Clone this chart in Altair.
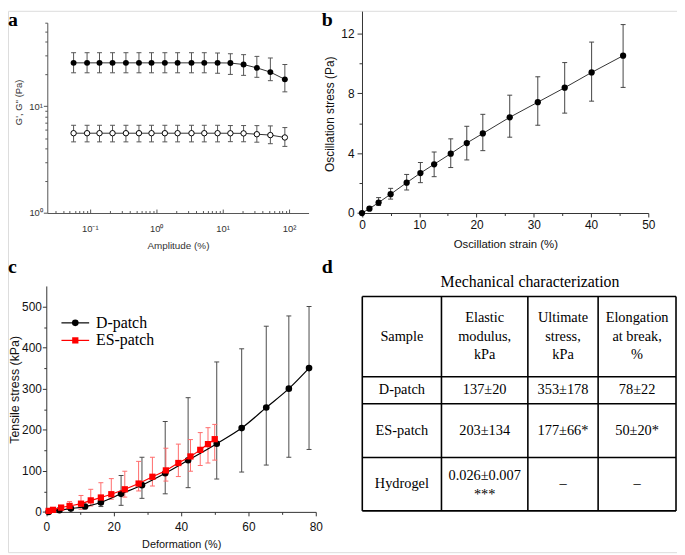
import altair as alt
import pandas as pd

# ---------------- data ----------------
# (a) amplitude sweep
amplitude = [0.057, 0.091, 0.14, 0.22, 0.35, 0.55, 0.85, 1.35, 2.1, 3.4, 5.3, 8.4, 13.1, 20.7, 32.8, 52.4, 86.6]
g_storage = [25.4, 25.4, 25.4, 25.4, 25.4, 25.4, 25.4, 25.4, 25.4, 25.4, 25.4, 25.4, 25.3, 24.5, 22.8, 20.8, 17.8]
g_storage_hi = [31.6, 31.6, 31.6, 31.6, 31.6, 31.6, 31.6, 31.6, 31.6, 31.6, 31.6, 31.4, 30.9, 30.3, 29.2, 28.2, 24.5]
g_storage_lo = [20.5, 20.5, 20.5, 20.5, 20.5, 20.5, 20.5, 20.5, 20.5, 20.5, 20.5, 20.3, 19.8, 19.4, 18.6, 17.3, 13.6]
g_loss = [5.58, 5.58, 5.58, 5.58, 5.58, 5.58, 5.58, 5.58, 5.58, 5.58, 5.58, 5.58, 5.57, 5.56, 5.46, 5.36, 5.09]
g_loss_hi = [6.62, 6.62, 6.62, 6.62, 6.62, 6.62, 6.62, 6.62, 6.62, 6.62, 6.62, 6.62, 6.58, 6.58, 6.57, 6.53, 6.30]
g_loss_lo = [4.63, 4.63, 4.63, 4.63, 4.63, 4.63, 4.63, 4.63, 4.63, 4.63, 4.63, 4.63, 4.65, 4.64, 4.60, 4.45, 4.20]

# (b) oscillation stress vs strain
strain = [0, 1.3, 2.9, 5.0, 7.8, 10.2, 12.6, 15.5, 18.3, 21.1, 25.8, 30.7, 35.4, 40.1, 45.6]
stress = [0, 0.29, 0.70, 1.26, 2.03, 2.67, 3.26, 3.97, 4.68, 5.32, 6.40, 7.41, 8.38, 9.40, 10.52]
stress_lo = [0, 0.29, 0.50, 0.93, 1.54, 2.03, 2.43, 3.04, 3.55, 4.17, 5.07, 5.87, 6.68, 7.48, 8.40]
stress_hi = [0, 0.29, 1.03, 1.65, 2.58, 3.38, 4.08, 4.96, 5.80, 6.60, 7.88, 9.11, 10.06, 11.43, 12.60]

# (c) tensile curves
series_names = ["D-patch", "ES-patch"]
def_d = [0.7, 3.9, 7.3, 11.5, 16.2, 22.2, 28.4, 35.3, 42.1, 50.6, 58.0, 65.3, 72.0, 78.0]
st_d = [0, 4, 8, 13, 23, 44, 65, 94, 125.6, 166, 204, 254, 300, 350]
lo_d = [0, 4, 8, 13, 13, 16, 33, 44, 59, 80, 97, 114, 133, 152]
hi_d = [0, 4, 8, 13, 40, 88.6, 133, 220, 278, 365, 397, 452, 477, 500]
def_e = [0.7, 2.0, 4.4, 6.9, 10.3, 13.2, 16.2, 19.3, 23.3, 27.4, 31.5, 35.5, 39.2, 42.8, 45.7, 48.0, 50.0]
st_e = [2.4, 5, 10.5, 14.5, 20, 28, 35, 43, 55, 69, 85.5, 101, 119, 135, 151, 165, 177]
lo_e = [2.4, 5, 8, 6.4, 6.4, 14.5, 20, 31, 36, 51, 63, 75, 86, 99, 113, 119, 126]
hi_e = [2.4, 5, 13, 25, 40, 55, 71, 81, 99, 123, 133, 155, 165, 176, 193, 205, 213]

# (d) table
table_title = "Mechanical characterization"
table_header = ["Sample", "Elastic\nmodulus,\nkPa", "Ultimate\nstress,\nkPa", "Elongation\nat break,\n%"]
table_samples = ["D-patch", "ES-patch", "Hydrogel"]
table_elastic = ["137±20", "203±134", "0.026±0.007\n***"]
table_ultimate = ["353±178", "177±66*", "–"]
table_elongation = ["78±22", "50±20*", "–"]

panel_letters = ["a", "b", "c", "d"]

# ---------------- layout (page px -> plot px) ----------------
OFF = 8
W, H = 676, 547


def px(v):
    return v - OFF


A_XR = [px(47.7), px(311.7)]; A_YR = [px(212.3), px(20.0)]
A_XD = [0.0229, 197]; A_YD = [1, 60.3]
B_XR = [px(365.7), px(655.0)]; B_YR = [px(212.3), px(8.3)]
B_XD = [0, 50]; B_YD = [0, 13.5]
C_XR = [px(46.7), px(319.0)]; C_YR = [px(514.3), px(286.0)]
C_XD = [0, 80]; C_YD = [0, 550]
T_COLS = [px(366), px(446), px(533.3), px(604.3), px(683)]
T_ROWS = [px(296.7), px(377.7), px(405), px(459.3), px(513.3)]

SANS = "Liberation Sans"
SERIF = "Liberation Serif"


def sc(dom, rng, typ="linear"):
    return alt.Scale(type=typ, domain=dom, range=rng, nice=False, zero=False)


def tick_axis(orient, offset, values, size, color):
    """An axis that only draws tick marks (no labels, no domain line)."""
    return alt.Axis(orient=orient, offset=offset, values=values, tickSize=size, tickColor=color,
                    labels=False, domain=False, grid=False, title=None)


IDX = alt.Scale(domain=[0, W], range=[0, W], nice=False, zero=False)
IDY = alt.Scale(domain=[0, H], range=[0, H], nice=False, zero=False)

# ---------------- panel a ----------------
a_x_all = sorted(set(round(m * 10 ** e, 6) for e in range(-2, 3) for m in range(1, 10)
                     if A_XD[0] <= m * 10 ** e <= A_XD[1]))
a_x_major = [0.1, 1, 10, 100]
a_x_minor = [v for v in a_x_all if v not in a_x_major]
a_y_all = sorted(set(round(m * 10 ** e, 6) for e in range(0, 2) for m in range(1, 10)
                     if A_YD[0] <= m * 10 ** e <= A_YD[1]))
a_y_major = [1, 10]
a_y_minor = [v for v in a_y_all if v not in a_y_major]
A_AX = "#555"

ax_a_x = alt.Axis(orient="bottom", offset=A_YR[0] - H, values=a_x_major, ticks=False,
                  labelExpr="datum.value < 0.5 ? '10⁻¹' : datum.value < 5 ? '10⁰' : datum.value < 50 ? '10¹' : '10²'",
                  labelFont=SANS, labelFontSize=9.5, labelColor="#333", labelPadding=11,
                  labelFlush=False, labelOverlap=False, domainColor=A_AX, grid=False,
                  title="Amplitude (%)", titleFont=SANS, titleFontSize=10, titleFontWeight="normal",
                  titleColor="#333", titleX=px(179.7), titleY=32.7, titleBaseline="middle")
ax_a_x_maj_in = tick_axis("top", -A_YR[0], a_x_major, 4, A_AX)
ax_a_x_min_in = tick_axis("top", -A_YR[0], a_x_minor, 2.5, A_AX)
ax_a_y = alt.Axis(orient="left", offset=-A_XR[0], values=a_y_major,
                  labelExpr="datum.value < 5 ? '10⁰' : '10¹'",
                  tickSize=4, tickColor=A_AX, domainColor=A_AX,
                  labelFont=SANS, labelFontSize=9.5, labelColor="#333", labelPadding=1,
                  labelOverlap=False, labelFlush=False, grid=False,
                  title="G', G'' (Pa)", titleFont=SANS, titleFontSize=9.5, titleFontWeight="normal",
                  titleColor="#333", titleX=px(18.5) - A_XR[0], titleY=px(100), titleAngle=-90,
                  titleBaseline="middle")
ax_a_y_min = tick_axis("left", -A_XR[0], a_y_minor, 2.5, A_AX)

df_a = pd.DataFrame({"x": amplitude, "gs": g_storage, "gs_lo": g_storage_lo, "gs_hi": g_storage_hi,
                     "gl": g_loss, "gl_lo": g_loss_lo, "gl_hi": g_loss_hi})


def XA(axis=None):
    return alt.X("x:Q", scale=sc(A_XD, A_XR, "log"), axis=axis)


def YA(f, axis=None):
    return alt.Y(f"{f}:Q", scale=sc(A_YD, A_YR, "log"), axis=axis)


ba = alt.Chart(df_a)
ERR_A = "#555"
panel_a = alt.layer(
    ba.mark_rule(color=ERR_A, strokeWidth=1).encode(x=XA(ax_a_x), y=YA("gs_lo", ax_a_y), y2="gs_hi:Q"),
    ba.mark_tick(orient="horizontal", size=5, thickness=1, color=ERR_A, opacity=1).encode(x=XA(ax_a_x_maj_in), y=YA("gs_lo", ax_a_y_min)),
    ba.mark_tick(orient="horizontal", size=5, thickness=1, color=ERR_A, opacity=1).encode(x=XA(ax_a_x_min_in), y=YA("gs_hi")),
    ba.mark_rule(color=ERR_A, strokeWidth=1).encode(x=XA(), y=YA("gl_lo"), y2="gl_hi:Q"),
    ba.mark_tick(orient="horizontal", size=5, thickness=1, color=ERR_A, opacity=1).encode(x=XA(), y=YA("gl_lo")),
    ba.mark_tick(orient="horizontal", size=5, thickness=1, color=ERR_A, opacity=1).encode(x=XA(), y=YA("gl_hi")),
    ba.mark_line(color="#333", strokeWidth=1).encode(x=XA(), y=YA("gs")),
    ba.mark_line(color="#333", strokeWidth=1).encode(x=XA(), y=YA("gl")),
    ba.mark_circle(color="black", size=36, opacity=1).encode(x=XA(), y=YA("gs")),
    ba.mark_circle(fill="white", stroke="black", strokeWidth=1, size=30, opacity=1).encode(x=XA(), y=YA("gl")),
).resolve_axis(x="independent", y="independent")

# ---------------- panel b ----------------
B_AX = "#333"
ax_b_x = alt.Axis(orient="bottom", offset=B_YR[0] - H, values=list(range(0, 51, 10)),
                  tickSize=4, tickColor=B_AX, domainColor=B_AX,
                  labelFont=SANS, labelFontSize=12, labelColor="#111", labelPadding=3,
                  labelFlush=False, labelOverlap=False, grid=False,
                  title="Oscillation strain (%)", titleFont=SANS, titleFontSize=11.5, titleFontWeight="normal",
                  titleColor="#111", titleX=px(510.5), titleY=32, titleBaseline="middle")
ax_b_x_min = tick_axis("bottom", B_YR[0] - H, list(range(5, 50, 10)), 2.5, B_AX)
ax_b_y = alt.Axis(orient="left", offset=-B_XR[0], values=list(range(0, 13, 4)),
                  tickSize=5, tickColor=B_AX, domainColor=B_AX,
                  labelFont=SANS, labelFontSize=12, labelColor="#111", labelPadding=3,
                  labelFlush=False, labelOverlap=False, grid=False,
                  title="Oscillation stress (Pa)", titleFont=SANS, titleFontSize=12, titleFontWeight="normal",
                  titleColor="#111", titleX=333 - (B_XR[0] + OFF), titleY=px(112), titleAngle=-90,
                  titleBaseline="middle")
ax_b_y_min = tick_axis("left", -B_XR[0], list(range(2, 13, 4)), 3, B_AX)

df_b = pd.DataFrame({"x": strain, "y": stress, "lo": stress_lo, "hi": stress_hi})
df_b_err = df_b[df_b["hi"] > df_b["lo"]]


def XB(axis=None):
    return alt.X("x:Q", scale=sc(B_XD, B_XR), axis=axis)


def YB(f, axis=None):
    return alt.Y(f"{f}:Q", scale=sc(B_YD, B_YR), axis=axis)


ERR_B = "#444"
panel_b = alt.layer(
    alt.Chart(df_b_err).mark_rule(color=ERR_B, strokeWidth=1).encode(x=XB(ax_b_x), y=YB("lo", ax_b_y), y2="hi:Q"),
    alt.Chart(df_b_err).mark_tick(orient="horizontal", size=5, thickness=1, color=ERR_B, opacity=1).encode(x=XB(ax_b_x_min), y=YB("lo", ax_b_y_min)),
    alt.Chart(df_b_err).mark_tick(orient="horizontal", size=5, thickness=1, color=ERR_B, opacity=1).encode(x=XB(), y=YB("hi")),
    alt.Chart(df_b).mark_line(color="#333", strokeWidth=1).encode(x=XB(), y=YB("y")),
    alt.Chart(df_b).mark_circle(color="black", size=40, opacity=1).encode(x=XB(), y=YB("y")),
).resolve_axis(x="independent", y="independent")

# ---------------- panel c ----------------
C_AX = "#333"
ax_c_x = alt.Axis(orient="bottom", offset=C_YR[0] - H, values=list(range(0, 81, 20)),
                  tickSize=4, tickColor=C_AX, domainColor=C_AX,
                  labelFont=SANS, labelFontSize=12, labelColor="#111", labelPadding=6,
                  labelFlush=False, labelOverlap=False, grid=False,
                  title="Deformation (%)", titleFont=SANS, titleFontSize=11, titleFontWeight="normal",
                  titleColor="#111", titleX=px(183), titleY=33.2, titleBaseline="middle")
ax_c_x_min = tick_axis("bottom", C_YR[0] - H, list(range(10, 80, 20)), 2.5, C_AX)
ax_c_y = alt.Axis(orient="left", offset=-C_XR[0], values=list(range(0, 501, 100)),
                  tickSize=4, tickColor=C_AX, domainColor=C_AX,
                  labelFont=SANS, labelFontSize=12, labelColor="#111", labelPadding=1,
                  labelFlush=False, labelOverlap=False, grid=False,
                  title="Tensile stress (kPa)", titleFont=SANS, titleFontSize=12.5, titleFontWeight="normal",
                  titleColor="#111", titleX=px(15) - C_XR[0], titleY=px(390.5), titleAngle=-90,
                  titleBaseline="middle")
ax_c_y_min = tick_axis("left", -C_XR[0], list(range(50, 501, 100)), 2.5, C_AX)

df_d = pd.DataFrame({"x": def_d, "y": st_d, "lo": lo_d, "hi": hi_d})
df_e = pd.DataFrame({"x": def_e, "y": st_e, "lo": lo_e, "hi": hi_e})
df_d_err = df_d[df_d["hi"] > df_d["lo"]]
df_e_err = df_e[df_e["hi"] > df_e["lo"]]


def XC(axis=None):
    return alt.X("x:Q", scale=sc(C_XD, C_XR), axis=axis)


def YC(f, axis=None):
    return alt.Y(f"{f}:Q", scale=sc(C_YD, C_YR), axis=axis)


BLACK_ERR = "#4a4a4a"
RED = "#ff0000"
RED_ERR = "#ff6b6b"
panel_c = alt.layer(
    alt.Chart(df_d_err).mark_rule(color=BLACK_ERR, strokeWidth=1).encode(x=XC(ax_c_x), y=YC("lo", ax_c_y), y2="hi:Q"),
    alt.Chart(df_d_err).mark_tick(orient="horizontal", size=5, thickness=1, color=BLACK_ERR, opacity=1).encode(x=XC(ax_c_x_min), y=YC("lo", ax_c_y_min)),
    alt.Chart(df_d_err).mark_tick(orient="horizontal", size=5, thickness=1, color=BLACK_ERR, opacity=1).encode(x=XC(), y=YC("hi")),
    alt.Chart(df_e_err).mark_rule(color=RED_ERR, strokeWidth=1).encode(x=XC(), y=YC("lo"), y2="hi:Q"),
    alt.Chart(df_e_err).mark_tick(orient="horizontal", size=5, thickness=1, color=RED_ERR, opacity=1).encode(x=XC(), y=YC("lo")),
    alt.Chart(df_e_err).mark_tick(orient="horizontal", size=5, thickness=1, color=RED_ERR, opacity=1).encode(x=XC(), y=YC("hi")),
    alt.Chart(df_d).mark_line(color="black", strokeWidth=1.2, interpolate="monotone").encode(x=XC(), y=YC("y")),
    alt.Chart(df_d).mark_circle(color="black", size=45, opacity=1).encode(x=XC(), y=YC("y")),
    alt.Chart(df_e).mark_line(color=RED, strokeWidth=1.2, interpolate="monotone").encode(x=XC(), y=YC("y")),
    alt.Chart(df_e).mark_square(color=RED, size=40, opacity=1).encode(x=XC(), y=YC("y")),
).resolve_axis(x="independent", y="independent")

# legend for panel c
LEG_X0, LEG_X1, LEG_XT = px(62), px(90), px(97)
LEG_Y = [px(323.3), px(341.0)]
leg_df = pd.DataFrame({"label": series_names, "x0": [LEG_X0] * 2, "x1": [LEG_X1] * 2,
                       "xm": [(LEG_X0 + LEG_X1) / 2] * 2, "xt": [LEG_XT] * 2, "y": LEG_Y})
leg_d = leg_df[leg_df["label"] == series_names[0]]
leg_e = leg_df[leg_df["label"] == series_names[1]]
legend = alt.layer(
    alt.Chart(leg_d).mark_rule(color="black", strokeWidth=1.2).encode(
        x=alt.X("x0:Q", scale=IDX, axis=None), x2="x1:Q", y=alt.Y("y:Q", scale=IDY, axis=None)),
    alt.Chart(leg_d).mark_circle(color="black", size=45, opacity=1).encode(
        x=alt.X("xm:Q", scale=IDX, axis=None), y=alt.Y("y:Q", scale=IDY, axis=None)),
    alt.Chart(leg_e).mark_rule(color=RED, strokeWidth=1.2).encode(
        x=alt.X("x0:Q", scale=IDX, axis=None), x2="x1:Q", y=alt.Y("y:Q", scale=IDY, axis=None)),
    alt.Chart(leg_e).mark_square(color=RED, size=40, opacity=1).encode(
        x=alt.X("xm:Q", scale=IDX, axis=None), y=alt.Y("y:Q", scale=IDY, axis=None)),
    alt.Chart(leg_df).mark_text(font=SERIF, fontSize=16, align="left", baseline="middle", color="black").encode(
        x=alt.X("xt:Q", scale=IDX, axis=None), y=alt.Y("y:Q", scale=IDY, axis=None), text="label:N"),
)

# ---------------- panel d: table ----------------
cells = []
grid_rows = [table_header] + [list(r) for r in zip(table_samples, table_elastic, table_ultimate, table_elongation)]
for ri, row in enumerate(grid_rows):
    cy = (T_ROWS[ri] + T_ROWS[ri + 1]) / 2
    lh = 18.7 if ri == 0 else 16.6
    for ci, txt in enumerate(row):
        cx = (T_COLS[ci] + T_COLS[ci + 1]) / 2
        lines = txt.split("\n")
        n = len(lines)
        for li, line in enumerate(lines):
            yy = cy + (li - (n - 1) / 2) * lh
            if line.startswith("*"):
                yy += 3
            cells.append({"text": line, "x": cx, "y": yy})
cells_df = pd.DataFrame(cells)

hlines = pd.DataFrame({"x0": [T_COLS[0]] * len(T_ROWS), "x1": [T_COLS[-1]] * len(T_ROWS), "y": T_ROWS})
vlines = pd.DataFrame({"x": T_COLS, "y0": [T_ROWS[0]] * len(T_COLS), "y1": [T_ROWS[-1]] * len(T_COLS)})
title_df = pd.DataFrame({"text": [table_title], "x": [px(535.5)], "y": [px(282)]})

table = alt.layer(
    alt.Chart(hlines).mark_rule(color="black", strokeWidth=1.6).encode(
        x=alt.X("x0:Q", scale=IDX, axis=None), x2="x1:Q", y=alt.Y("y:Q", scale=IDY, axis=None)),
    alt.Chart(vlines).mark_rule(color="black", strokeWidth=1.6).encode(
        x=alt.X("x:Q", scale=IDX, axis=None), y=alt.Y("y0:Q", scale=IDY, axis=None), y2="y1:Q"),
    alt.Chart(cells_df).mark_text(font=SERIF, fontSize=14.5, align="center", baseline="middle", color="black").encode(
        x=alt.X("x:Q", scale=IDX, axis=None), y=alt.Y("y:Q", scale=IDY, axis=None), text="text:N"),
    alt.Chart(title_df).mark_text(font=SERIF, fontSize=16, align="center", baseline="middle", color="black").encode(
        x=alt.X("x:Q", scale=IDX, axis=None), y=alt.Y("y:Q", scale=IDY, axis=None), text="text:N"),
)

# ---------------- panel letters ----------------
letters_df = pd.DataFrame({"text": panel_letters,
                           "x": [px(8), px(325), px(8), px(325)],
                           "y": [px(23), px(23), px(273), px(273)]})
letters = alt.Chart(letters_df).mark_text(font=SERIF, fontSize=20, fontWeight="bold", align="left",
                                          baseline="alphabetic", color="black").encode(
    x=alt.X("x:Q", scale=IDX, axis=None), y=alt.Y("y:Q", scale=IDY, axis=None), text="text:N")

chart = alt.layer(panel_a, panel_b, panel_c, legend, table, letters).resolve_scale(
    x="independent", y="independent").resolve_axis(x="independent", y="independent").properties(
    width=W, height=H, autosize=alt.AutoSizeParams(type="none"), padding=0
).configure_view(strokeWidth=0, stroke="transparent").configure(background="white")

chart.save("out.html", embed_options={"renderer": "svg", "actions": False})
